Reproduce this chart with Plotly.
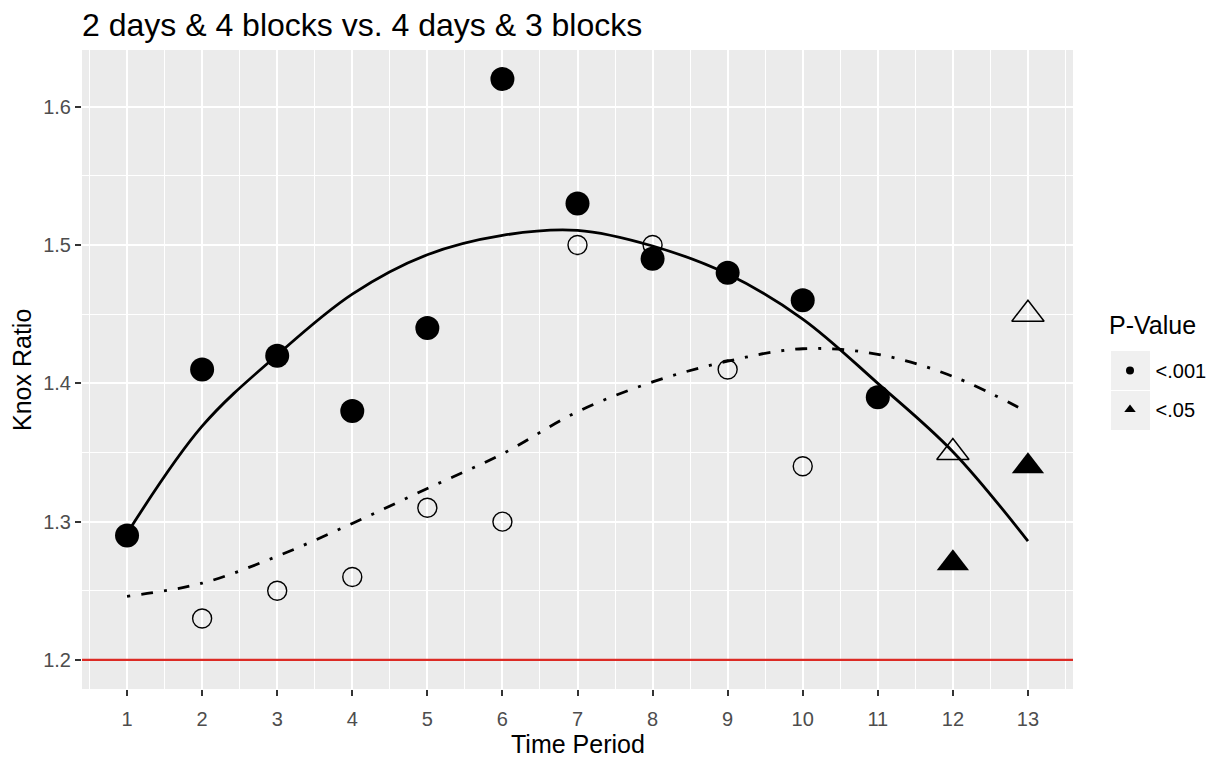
import plotly.graph_objects as go

# ---- data ----
periods = list(range(1, 14))
tick_labels = [str(p) for p in periods]

# series A: 2 days & 4 blocks (filled markers)
knox_a = [1.29, 1.41, 1.42, 1.38, 1.44, 1.62, 1.53, 1.49, 1.48, 1.46, 1.39, 1.27, 1.34]
pval_a = ["<.001"] * 11 + ["<.05", "<.05"]
# series B: 4 days & 3 blocks (open markers); None = not shown
knox_b = [None, 1.23, 1.25, 1.26, 1.31, 1.30, 1.50, 1.50, 1.41, 1.34, None, 1.35, 1.45]
pval_b = ["<.001"] * 11 + ["<.05", "<.05"]

# smoothed fits
smooth_a = [1.2915, 1.369, 1.4205, 1.4645, 1.493, 1.507, 1.5106, 1.4993, 1.479, 1.4465, 1.400, 1.3506, 1.286]
smooth_b = [1.246, 1.2555, 1.275, 1.2987, 1.324, 1.349, 1.3795, 1.401, 1.416, 1.425, 1.421, 1.405, 1.379]

baseline = 1.2
legend_levels = ["<.001", "<.05"]
y_ticks = [1.2, 1.3, 1.4, 1.5, 1.6]

FONT = "Liberation Sans, Arial, sans-serif"
fig = go.Figure()

# smooth lines
fig.add_trace(go.Scatter(x=periods, y=smooth_a, mode="lines",
                         line=dict(color="black", width=2.8, shape="spline", smoothing=1.0),
                         showlegend=False, hoverinfo="skip"))
fig.add_trace(go.Scatter(x=periods, y=smooth_b, mode="lines",
                         line=dict(color="black", width=2.8, shape="spline", smoothing=1.0, dash="3px,11px,12px,11px"),
                         showlegend=False, hoverinfo="skip"))

def subset(xs, ys, ps, level):
    xx, yy = [], []
    for x, y, p in zip(xs, ys, ps):
        if y is not None and p == level:
            xx.append(x); yy.append(y)
    return xx, yy

# series A points
x1, y1 = subset(periods, knox_a, pval_a, "<.001")
fig.add_trace(go.Scatter(x=x1, y=y1, mode="markers", marker=dict(symbol="circle", size=24, color="black"), showlegend=False))
x2, y2 = subset(periods, knox_a, pval_a, "<.05")
fig.add_trace(go.Scatter(x=x2, y=y2, mode="markers", marker=dict(symbol="triangle-up", size=28, color="black"), showlegend=False))
# series B points
x3, y3 = subset(periods, knox_b, pval_b, "<.001")
fig.add_trace(go.Scatter(x=x3, y=y3, mode="markers",
                         marker=dict(symbol="circle-open", size=19, color="black", line=dict(width=1.4, color="black")), showlegend=False))
x4, y4 = subset(periods, knox_b, pval_b, "<.05")
fig.add_trace(go.Scatter(x=x4, y=y4, mode="markers",
                         marker=dict(symbol="triangle-up-open", size=28, color="black", line=dict(width=1.5, color="black")), showlegend=False))

# legend entries
fig.add_trace(go.Scatter(x=[None], y=[None], mode="markers", name="\u00a0" + legend_levels[0], legendgroup="g1",
                         marker=dict(symbol="circle", size=8, color="black")))
fig.add_trace(go.Scatter(x=[None], y=[None], mode="markers", name="\u00a0" + legend_levels[1], legendgroup="g2",
                         marker=dict(symbol="triangle-up", size=10, color="black")))

fig.add_hline(y=baseline, line=dict(color="#dc2a24", width=2.2), layer="above")

# reference-picture geometry (page px); page body adds an 8px offset
OFF = 8
L, R, T, B = 82, 1073, 50, 689
W, H = 1223, 757
pw, ph = R - L, B - T
def px_x(x): return (x - L) / pw
def px_y(y): return (B - y) / ph

# legend key backgrounds
for (top, bot) in [(351, 390), (391, 430)]:
    fig.add_shape(type="rect", xref="paper", yref="paper", x0=px_x(1111), x1=px_x(1150), y0=px_y(bot), y1=px_y(top),
                  fillcolor="#f0f0f0", line=dict(width=0), layer="below")

fig.add_annotation(text="P-Value", xref="paper", yref="paper", x=px_x(1107), y=px_y(325),
                   xanchor="left", yanchor="middle", showarrow=False,
                   font=dict(size=25, family=FONT, color="black"))
# axis titles
fig.add_annotation(text="Time Period", xref="paper", yref="paper", x=0.5, y=px_y(744),
                   xanchor="center", yanchor="middle", showarrow=False, borderpad=0,
                   font=dict(size=25, family=FONT, color="black"))
fig.add_annotation(text="Knox Ratio", xref="paper", yref="paper", x=px_x(22), y=px_y(370), textangle=-90,
                   xanchor="center", yanchor="middle", showarrow=False,
                   font=dict(size=25, family=FONT, color="black"))

fig.update_layout(
    width=W, height=H,
    margin=dict(l=L - OFF, r=W - R + OFF, t=T - OFF, b=H - B + OFF, autoexpand=False),
    paper_bgcolor="white", plot_bgcolor="#ebebeb",
    font=dict(family=FONT, color="black"),
    title=dict(text="2 days & 4 blocks vs. 4 days & 3 blocks", font=dict(size=32, family=FONT, color="black"),
               x=0, xref="paper", xanchor="left", y=1 - (25 - OFF) / H, yref="container", yanchor="middle"),
    legend=dict(font=dict(size=20, family=FONT, color="black"),
                x=px_x(1110), xanchor="left", y=px_y(351), yanchor="top",
                bgcolor="rgba(0,0,0,0)", tracegroupgap=10, traceorder="grouped", itemsizing="trace"),
    showlegend=True,
)
fig.update_xaxes(range=[0.4, 13.6], tickmode="array", tickvals=periods, ticktext=tick_labels, automargin=False,
                 showgrid=True, gridcolor="white", gridwidth=2,
                 minor=dict(dtick=1, tick0=0.5, showgrid=True, gridcolor="white", gridwidth=1, ticks=""),
                 zeroline=False, showline=False,
                 ticks="outside", ticklen=6, tickwidth=1.5, tickcolor="#333333", ticklabelstandoff=6,
                 tickfont=dict(size=20, color="#4d4d4d", family=FONT))
fig.update_yaxes(range=[1.179, 1.641], tickmode="array", tickvals=y_ticks, ticktext=[f"{v:.1f}" for v in y_ticks],
                 automargin=False,
                 showgrid=True, gridcolor="white", gridwidth=2,
                 minor=dict(dtick=0.1, tick0=1.15, showgrid=True, gridcolor="white", gridwidth=1, ticks=""),
                 zeroline=False, showline=False,
                 ticks="outside", ticklen=6, tickwidth=1.5, tickcolor="#333333",
                 tickfont=dict(size=20, color="#4d4d4d", family=FONT))

fig.write_html("out.html")
